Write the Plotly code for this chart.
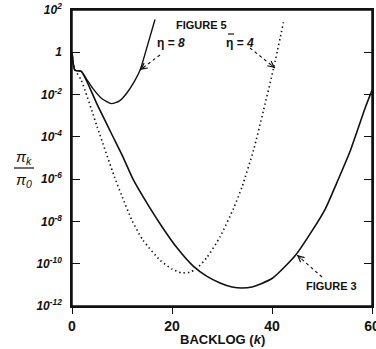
import numpy as np
import plotly.graph_objects as go

# ---- data; y values stored as log10(pi_k / pi_0) ----
fig3_k = [0, 0.6, 1.85, 5, 8, 10, 12.2, 14.6, 18, 21, 24.3, 27, 29.6, 32, 34, 36, 40, 44.7, 48, 50.7, 53, 55.7, 58.7, 60]
fig3_log = [0, -0.85, -0.9, -2.45, -3.9, -4.85, -6.0, -6.98, -8.25, -9.25, -10.13, -10.6, -10.91, -11.1, -11.15, -11.1, -10.7, -9.6, -8.45, -7.39, -6.15, -4.63, -2.59, -1.8]

eta8_k = [0, 0.6, 1.85, 3, 4.2, 6, 7.9, 9.5, 10.9, 12.3, 13.6, 15.2, 16.6]
eta8_log = [0, -0.85, -0.9, -1.3, -1.72, -2.2, -2.43, -2.3, -1.95, -1.45, -0.85, 0.41, 1.55]

eta4_k = [0, 0.5, 1.85, 5, 8.5, 9.9, 12, 14.2, 17.6, 20, 21.9, 23.5, 24.9, 27, 29.6, 32.3, 34, 36.3, 38.3, 40.3, 42.3]
eta4_log = [0, -0.78, -1.32, -3.5, -5.9, -6.75, -7.95, -8.89, -9.83, -10.25, -10.43, -10.4, -10.23, -9.7, -8.73, -7.39, -6.37, -4.63, -2.75, -0.77, 1.42]

x_ticks = [0, 20, 40, 60]
y_tick_exp = [2, 0, -2, -4, -6, -8, -10, -12]
y_tick_text = ["10<sup>2</sup>", "1", "10<sup>-2</sup>", "10<sup>-4</sup>", "10<sup>-6</sup>",
               "10<sup>-8</sup>", "10<sup>-10</sup>", "10<sup>-12</sup>"]

FONT = "Liberation Sans, Arial, sans-serif"
INK = "#111111"

fig = go.Figure()
fig.add_trace(go.Scatter(x=fig3_k, y=10 ** np.array(fig3_log, dtype=float), mode="lines",
                         line=dict(color=INK, width=1.6, shape="spline", smoothing=0.6)))
fig.add_trace(go.Scatter(x=eta8_k, y=10 ** np.array(eta8_log, dtype=float), mode="lines",
                         line=dict(color=INK, width=1.4, shape="spline", smoothing=0.6)))
fig.add_trace(go.Scatter(x=eta4_k, y=10 ** np.array(eta4_log, dtype=float), mode="lines",
                         line=dict(color=INK, width=1.6, dash="1.4px,3px", shape="spline", smoothing=0.6)))

fig.update_layout(
    width=376, height=349,
    margin=dict(l=72, r=4, t=10, b=43),
    paper_bgcolor="white", plot_bgcolor="white",
    showlegend=False,
    font=dict(family=FONT, color=INK),
)
fig.update_xaxes(
    range=[0, 60], tickvals=x_ticks, ticktext=[str(v) for v in x_ticks],
    showgrid=False, zeroline=False, automargin=False, ticklabeloverflow="allow",
    showline=True, linecolor=INK, linewidth=1.5, mirror=True,
    ticks="outside", ticklen=6, tickwidth=1.2, tickcolor=INK,
    tickfont=dict(family=FONT, size=14, weight="bold", color=INK),
)
fig.update_yaxes(
    type="log", range=[-12, 2], automargin=False, ticklabeloverflow="allow",
    tickvals=[10.0 ** e for e in y_tick_exp], ticktext=y_tick_text,
    showgrid=False, zeroline=False,
    showline=True, linecolor=INK, linewidth=1.5, mirror="ticks",
    ticks="inside", ticklen=8, tickwidth=1.2, tickcolor=INK,
    tickfont=dict(family=FONT, size=12, style="italic", weight="bold", color=INK),
    ticklabelstandoff=6,
)

def P(px, py):
    # window pixel (reference picture) -> paper coordinates of the plot area
    return (px - 72) / 300.0, (306 - py) / 296.0

ann = []
# x-axis title
xp, yp = P(222, 339)
ann.append(dict(text="BACKLOG (<i>k</i>)", x=xp, y=yp, xref="paper", yref="paper", showarrow=False,
                xanchor="center", yanchor="middle", font=dict(family=FONT, size=13, weight="bold", color=INK)))
# y-axis fraction label
for txt, py in [("<i>π<sub>k</sub></i>", 157), ("<i>π<sub>0</sub></i>", 180)]:
    xp, yp = P(24, py)
    ann.append(dict(text=txt, x=xp, y=yp, xref="paper", yref="paper", showarrow=False,
                    xanchor="center", yanchor="middle", font=dict(family=FONT, size=15, color=INK)))
x0, yl = P(14, 168)
x1, _ = P(34, 168)
shapes = [dict(type="line", xref="paper", yref="paper", x0=x0, x1=x1, y0=yl, y1=yl,
               line=dict(color=INK, width=1.2)),
          dict(type="rect", xref="paper", yref="paper", x0=0, x1=1, y0=0, y1=1,
               line=dict(color=INK, width=1.5), layer="above")]

labels = [("FIGURE 5", 201, 25, 11),
          ("η = <i>8</i>", 171, 43, 12),
          ("η = <i>4</i>", 240, 43, 12),
          ("FIGURE 3", 331, 286, 11)]
for txt, px, py, sz in labels:
    xp, yp = P(px, py)
    ann.append(dict(text=txt, x=xp, y=yp, xref="paper", yref="paper", showarrow=False,
                    xanchor="center", yanchor="middle", font=dict(family=FONT, size=sz, weight="bold", color=INK)))
# overbar on the second eta
b0 = P(228, 34)
b1 = P(234, 34)
shapes.append(dict(type="line", xref="paper", yref="paper", x0=b0[0], x1=b1[0], y0=b0[1], y1=b1[1],
                   line=dict(color=INK, width=1.2)))

# dashed pointer arrows (tail px, head px)
arrows = [((160, 55), (140, 70)), ((250, 48), (275, 68)), ((322, 277), (297, 255))]
for (tx, ty), (hx, hy) in arrows:
    a0 = P(tx, ty)
    a1 = P(hx, hy)
    shapes.append(dict(type="line", xref="paper", yref="paper", x0=a0[0], y0=a0[1], x1=a1[0], y1=a1[1],
                       line=dict(color=INK, width=1.1, dash="3px,3px")))
    dx, dy = tx - hx, ty - hy
    L = (dx * dx + dy * dy) ** 0.5
    ann.append(dict(text="", x=a1[0], y=a1[1], xref="paper", yref="paper", showarrow=True,
                    ax=dx / L * 8, ay=dy / L * 8, arrowhead=5, arrowsize=1.2, arrowwidth=1.0,
                    arrowcolor=INK))

fig.update_layout(annotations=ann, shapes=shapes)
fig.write_html("out.html", config={"displayModeBar": False},
               post_script="document.body.style.margin='0';document.body.style.overflow='hidden';")
